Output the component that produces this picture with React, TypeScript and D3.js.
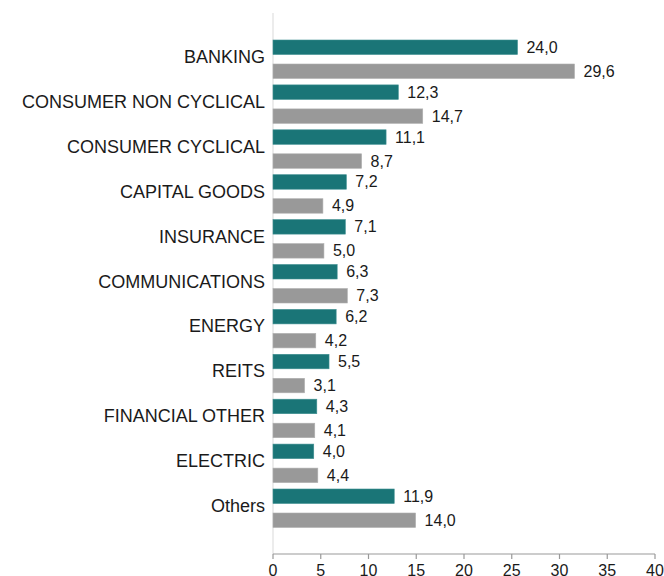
import React from "react";
import * as d3 from "d3";

const categories = [
  "BANKING",
  "CONSUMER NON CYCLICAL",
  "CONSUMER CYCLICAL",
  "CAPITAL GOODS",
  "INSURANCE",
  "COMMUNICATIONS",
  "ENERGY",
  "REITS",
  "FINANCIAL OTHER",
  "ELECTRIC",
  "Others",
];
const seriesA = [24.0, 12.3, 11.1, 7.2, 7.1, 6.3, 6.2, 5.5, 4.3, 4.0, 11.9];
const seriesB = [29.6, 14.7, 8.7, 4.9, 5.0, 7.3, 4.2, 3.1, 4.1, 4.4, 14.0];
const axisTicks = [0, 5, 10, 15, 20, 25, 30, 35, 40];

const W = 664;
const H = 576;
const x0 = 273;
const x1 = 655;
const axisY = 554;

export default function App() {
  const xAxis = d3.scaleLinear().domain([0, 40]).range([x0, x1]);
  const xBar = d3.scaleLinear().domain([0, 37.5]).range([x0, x1]);
  const y = d3
    .scaleBand<string>()
    .domain(categories)
    .range([35, 35 + 11 * 44.9])
    .paddingInner(0)
    .paddingOuter(0);
  const fmt = (v: number) => v.toFixed(1).replace(".", ",");
  const barH = 14.5;
  const font = "'Liberation Sans', Arial, sans-serif";
  return (
    <svg
      width={W}
      height={H}
      style={{ position: "absolute", left: 0, top: 0, background: "#fff" }}
      fontFamily={font}
    >
      <line x1={x0} x2={x0} y1={13} y2={axisY} stroke="#e6e6e6" strokeWidth={1.5} />
      {categories.map((c, i) => {
        const by = y(c)!;
        const ta = by + 5;
        const tb = by + 29;
        return (
          <g key={c}>
            <text
              x={265}
              y={by + 22}
              textAnchor="end"
              dominantBaseline="central"
              fontSize={18}
              fill="#1a1a1a"
            >
              {c}
            </text>
            <rect
              x={xBar(0)}
              y={ta}
              width={xBar(seriesA[i]) - xBar(0)}
              height={barH}
              fill="#1a7577"
              stroke="#3f8f91"
              strokeWidth={0.6}
            />
            <rect
              x={xBar(0)}
              y={tb}
              width={xBar(seriesB[i]) - xBar(0)}
              height={barH}
              fill="#999999"
              stroke="#b0b0b0"
              strokeWidth={0.6}
            />
            <text
              x={xBar(seriesA[i]) + 9}
              y={ta + barH / 2}
              dominantBaseline="central"
              fontSize={16}
              fill="#1a1a1a"
            >
              {fmt(seriesA[i])}
            </text>
            <text
              x={xBar(seriesB[i]) + 9}
              y={tb + barH / 2}
              dominantBaseline="central"
              fontSize={16}
              fill="#1a1a1a"
            >
              {fmt(seriesB[i])}
            </text>
          </g>
        );
      })}
      <line x1={x0} x2={x1} y1={axisY} y2={axisY} stroke="#999" strokeWidth={1.2} />
      {axisTicks.map((t) => (
        <g key={t}>
          <line
            x1={xAxis(t)}
            x2={xAxis(t)}
            y1={axisY}
            y2={axisY + 5}
            stroke="#999"
            strokeWidth={1.2}
          />
          <text
            x={xAxis(t)}
            y={576}
            textAnchor="middle"
            fontSize={16}
            fill="#1a1a1a"
          >
            {t}
          </text>
        </g>
      ))}
    </svg>
  );
}
